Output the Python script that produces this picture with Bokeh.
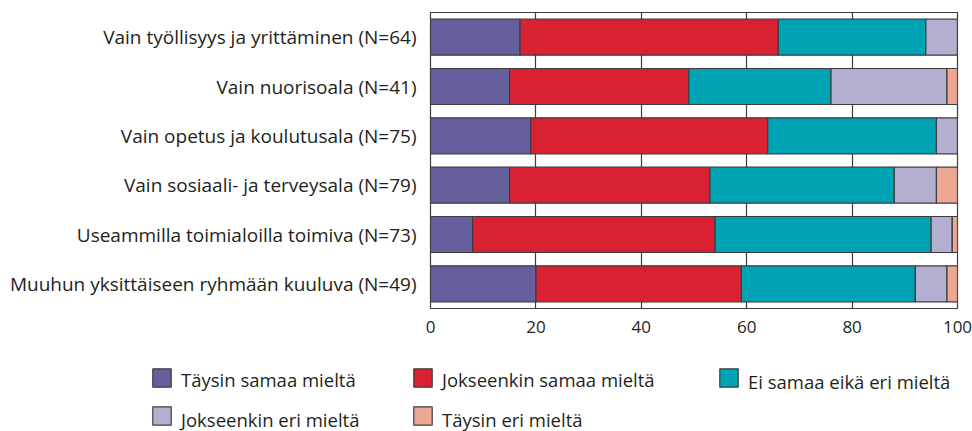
from bokeh.plotting import figure
from bokeh.models import FactorRange, Range1d, Legend, LegendItem, FixedTicker, ColumnDataSource
from bokeh.embed import file_html
from bokeh.resources import INLINE

categories = [
    "Vain työllisyys ja yrittäminen (N=64)",
    "Vain nuorisoala (N=41)",
    "Vain opetus ja koulutusala (N=75)",
    "Vain sosiaali- ja terveysala (N=79)",
    "Useammilla toimialoilla toimiva (N=73)",
    "Muuhun yksittäiseen ryhmään kuuluva (N=49)",
]
series_names = [
    "Täysin samaa mieltä",
    "Jokseenkin samaa mieltä",
    "Ei samaa eikä eri mieltä",
    "Jokseenkin eri mieltä",
    "Täysin eri mieltä",
]
taysin_samaa = [17, 15, 19, 15, 8, 20]
jokseenkin_samaa = [49, 34, 45, 38, 46, 39]
ei_samaa_eika_eri = [28, 27, 32, 35, 41, 33]
jokseenkin_eri = [6, 22, 4, 8, 4, 6]
taysin_eri = [0, 2, 0, 4, 1, 2]
x_ticks = [0, 20, 40, 60, 80, 100]

colors = ["#665F9E", "#DA2133", "#00A3B3", "#B3AFD0", "#EDA893"]
keys = ["s1", "s2", "s3", "s4", "s5"]

src = ColumnDataSource(data=dict(
    cat=categories,
    s1=taysin_samaa, s2=jokseenkin_samaa, s3=ei_samaa_eika_eri,
    s4=jokseenkin_eri, s5=taysin_eri,
))

FONT = "Open Sans"
TXT = "#231F20"
LINE = "#3C3C3C"

# ---------------- main chart ----------------
p = figure(
    y_range=FactorRange(factors=categories[::-1]),
    x_range=Range1d(0, 100),
    width=972, height=340,
    output_backend="svg", toolbar_location=None,
    min_border_left=430, min_border_right=15,
    min_border_top=12, min_border_bottom=32,
)
p.background_fill_color = "white"
p.border_fill_color = "white"
p.outline_line_color = LINE
p.outline_line_width = 1.2

renderers = p.hbar_stack(keys, y="cat", height=0.73, color=colors,
                         line_color=LINE, line_width=1.2, source=src)

p.ygrid.grid_line_color = None
p.xgrid.ticker = FixedTicker(ticks=x_ticks)
p.xgrid.grid_line_color = LINE
p.xgrid.grid_line_width = 1.2

p.xaxis.ticker = FixedTicker(ticks=x_ticks)
p.xaxis.axis_line_color = None
p.xaxis.major_tick_line_color = None
p.xaxis.minor_tick_line_color = None
p.xaxis.major_label_standoff = 6
p.xaxis.major_label_text_font = FONT
p.xaxis.major_label_text_font_size = "17px"
p.xaxis.major_label_text_color = TXT

p.yaxis.axis_line_color = None
p.yaxis.major_tick_line_color = None
p.yaxis.minor_tick_line_color = None
p.yaxis.major_label_standoff = 8
p.yaxis.major_label_text_font = FONT
p.yaxis.major_label_text_font_size = "19px"
p.yaxis.major_label_text_color = TXT

# ---------------- legend strip (separate root) ----------------
pl = figure(
    width=972, height=91,
    x_range=Range1d(0, 100), y_range=FactorRange(factors=categories[::-1]),
    output_backend="svg", toolbar_location=None,
    x_axis_type=None, y_axis_type=None,
    min_border_left=0, min_border_right=0, min_border_top=0, min_border_bottom=0,
)
pl.outline_line_color = None
pl.grid.visible = False
pl.background_fill_color = "white"
pl.border_fill_color = "white"

# same stacked series, hidden here: only their legend swatches are shown
swatches = pl.hbar_stack(keys, y="cat", height=0.73, color=colors,
                         line_color=LINE, line_width=1.2, source=src)
for r in swatches:
    r.visible = False
# fully transparent, hidden proxy used by the text-only legends
blank = pl.hbar(y="cat", right="s1", height=0.73, source=src,
                fill_alpha=0, line_alpha=0, visible=False)

COMMON = dict(
    orientation="vertical", glyph_width=23, glyph_height=23, spacing=15,
    label_standoff=8, label_text_font=FONT, label_text_font_size="18.5px",
    label_text_color=TXT, label_height=23, padding=0, margin=0,
    border_line_alpha=0, background_fill_alpha=0, inactive_fill_alpha=0,
)


def make_legend(idxs, x, y):
    # swatches
    pl.add_layout(Legend(
        items=[LegendItem(label=" ", renderers=[swatches[i]]) for i in idxs],
        location=(x, y), **COMMON), "center")
    # labels, set slightly lower as in the reference
    pl.add_layout(Legend(
        items=[LegendItem(label=series_names[i], renderers=[blank]) for i in idxs],
        location=(x, y - 5), **COMMON), "center")


make_legend([0, 3], 150, 4)
make_legend([1, 4], 411, 4)
make_legend([2], 717, 42)

open("out.html", "w").write(file_html((p, pl), INLINE))
